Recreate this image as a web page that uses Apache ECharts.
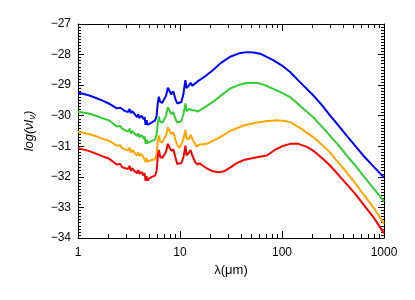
<!DOCTYPE html>
<html>
<head>
<meta charset="utf-8">
<script src="https://cdn.jsdelivr.net/npm/echarts@6/dist/echarts.min.js"></script>
<style>
html,body{margin:0;padding:0;background:#fff;}
#chart{width:415px;height:300px;}
</style>
</head>
<body>
<div id="chart"></div>
<script>
// Wavelength (micron) / log(nu I_nu) pairs
const blue = [[1,-29.24],[1.27,-29.33],[1.5,-29.42],[1.72,-29.5],[2.0,-29.6],[2.15,-29.66],[2.4,-29.76],[2.5,-29.78],[2.6,-29.74],[2.7,-29.8],[2.9,-29.85],[3.1,-29.88],[3.2,-29.78],[3.3,-29.92],[3.4,-29.85],[3.6,-29.95],[3.8,-30.05],[3.9,-29.95],[4.0,-30.08],[4.2,-30.0],[4.4,-30.12],[4.5,-30.05],[4.6,-30.3],[4.7,-30.15],[4.8,-30.3],[5.0,-30.25],[5.3,-30.22],[5.7,-30.15],[5.9,-30.0],[6.05,-29.6],[6.2,-29.38],[6.4,-29.55],[6.7,-29.58],[7.0,-29.45],[7.3,-29.35],[7.6,-29.08],[7.9,-29.12],[8.2,-29.3],[8.6,-29.2],[9.0,-29.45],[9.4,-29.6],[9.8,-29.65],[10.3,-29.55],[10.8,-29.3],[11.1,-29.0],[11.3,-28.84],[11.6,-29.1],[12.0,-29.05],[12.3,-29.0],[12.7,-28.92],[13.2,-29.02],[14,-28.95],[15,-28.87],[17,-28.75],[21,-28.51],[25,-28.28],[31,-28.07],[38,-27.96],[45,-27.92],[53,-27.93],[61,-27.97],[70,-28.07],[82,-28.18],[100,-28.36],[120,-28.57],[150,-28.9],[202,-29.33],[250,-29.68],[295,-29.99],[350,-30.28],[430,-30.65],[520,-30.98],[625,-31.3],[800,-31.68],[1000,-32.02]];
const green = [[1,-29.87],[1.27,-29.93],[1.5,-30.0],[1.72,-30.08],[2.0,-30.15],[2.2,-30.25],[2.4,-30.35],[2.5,-30.38],[2.6,-30.34],[2.7,-30.42],[2.9,-30.48],[3.1,-30.52],[3.2,-30.42],[3.3,-30.58],[3.4,-30.5],[3.6,-30.6],[3.8,-30.66],[3.9,-30.58],[4.0,-30.7],[4.2,-30.63],[4.4,-30.75],[4.5,-30.68],[4.6,-30.92],[4.7,-30.78],[4.8,-30.9],[5.0,-30.85],[5.3,-30.82],[5.7,-30.78],[5.9,-30.62],[6.05,-30.25],[6.2,-30.03],[6.4,-30.2],[6.7,-30.22],[7.0,-30.12],[7.3,-30.0],[7.6,-29.72],[7.9,-29.78],[8.2,-29.95],[8.6,-29.88],[9.0,-30.1],[9.4,-30.22],[9.8,-30.27],[10.3,-30.18],[10.8,-29.95],[11.1,-29.75],[11.3,-29.6],[11.6,-29.85],[12.0,-29.82],[12.3,-29.78],[12.7,-29.72],[13.2,-29.82],[14,-29.83],[15,-29.86],[17,-29.75],[21,-29.55],[25,-29.35],[31,-29.11],[38,-28.99],[45,-28.93],[53,-28.92],[61,-28.95],[70,-29.02],[82,-29.12],[100,-29.25],[120,-29.39],[150,-29.67],[202,-30.05],[250,-30.38],[295,-30.65],[350,-30.93],[430,-31.3],[520,-31.62],[625,-31.96],[800,-32.4],[1000,-32.8]];
const orange = [[1,-30.52],[1.27,-30.6],[1.5,-30.67],[1.72,-30.75],[2.0,-30.82],[2.2,-30.9],[2.4,-30.98],[2.5,-31.02],[2.6,-30.97],[2.7,-31.06],[2.9,-31.1],[3.1,-31.14],[3.2,-31.04],[3.3,-31.2],[3.4,-31.12],[3.6,-31.22],[3.8,-31.3],[3.9,-31.2],[4.0,-31.32],[4.2,-31.25],[4.4,-31.36],[4.5,-31.3],[4.6,-31.52],[4.7,-31.38],[4.8,-31.5],[5.0,-31.47],[5.3,-31.45],[5.7,-31.42],[5.9,-31.25],[6.05,-30.85],[6.2,-30.65],[6.4,-30.85],[6.7,-30.88],[7.0,-30.75],[7.3,-30.65],[7.6,-30.38],[7.9,-30.42],[8.2,-30.6],[8.6,-30.55],[9.0,-30.78],[9.4,-30.95],[9.8,-31.05],[10.3,-30.95],[10.8,-30.75],[11.1,-30.6],[11.3,-30.46],[11.6,-30.75],[12.0,-30.8],[12.3,-30.75],[12.7,-30.62],[13.2,-30.75],[14,-30.92],[14.6,-31.02],[15.3,-30.95],[18.3,-30.92],[21,-30.82],[24.8,-30.7],[31,-30.5],[42,-30.32],[55,-30.23],[70,-30.18],[89,-30.15],[105,-30.17],[120,-30.21],[150,-30.4],[202,-30.7],[250,-30.97],[295,-31.2],[350,-31.5],[430,-31.85],[520,-32.2],[625,-32.56],[800,-33.03],[1000,-33.53]];
const red = [[1,-31.06],[1.27,-31.15],[1.5,-31.24],[1.72,-31.32],[2.0,-31.4],[2.2,-31.5],[2.4,-31.6],[2.5,-31.64],[2.6,-31.58],[2.7,-31.68],[2.9,-31.72],[3.1,-31.74],[3.2,-31.64],[3.3,-31.8],[3.4,-31.72],[3.6,-31.82],[3.8,-31.88],[3.9,-31.78],[4.0,-31.9],[4.2,-31.84],[4.4,-31.96],[4.5,-31.88],[4.6,-32.13],[4.7,-31.98],[4.8,-32.12],[5.0,-32.05],[5.3,-32.0],[5.7,-31.96],[5.9,-31.8],[6.05,-31.35],[6.2,-31.12],[6.4,-31.35],[6.7,-31.38],[7.0,-31.28],[7.3,-31.18],[7.6,-30.92],[7.9,-30.98],[8.2,-31.15],[8.6,-31.1],[9.0,-31.35],[9.4,-31.58],[9.8,-31.63],[10.3,-31.55],[10.8,-31.35],[11.1,-31.15],[11.3,-30.98],[11.6,-31.3],[12.0,-31.3],[12.3,-31.2],[12.7,-31.12],[13.2,-31.3],[14,-31.5],[14.8,-31.6],[15.5,-31.55],[16.5,-31.62],[18.3,-31.72],[21,-31.82],[24,-31.85],[27,-31.82],[31,-31.7],[36,-31.55],[42,-31.45],[55,-31.37],[71,-31.3],[85,-31.12],[100,-31.0],[120,-30.92],[145,-30.92],[175,-31.02],[202,-31.14],[250,-31.4],[295,-31.63],[350,-31.9],[430,-32.24],[520,-32.55],[625,-32.89],[800,-33.35],[1000,-33.85]];

const xMajorTicks = [1, 10, 100, 1000];
const xMinorTicks = [2,3,4,5,6,7,8,9,20,30,40,50,60,70,80,90,200,300,400,500,600,700,800,900];
const yTickLabels = [-34,-33,-32,-31,-30,-29,-28,-27];

const seriesList = [
  {name:'blue', data: blue, color:'#0000ff'},
  {name:'green', data: green, color:'#33cc33'},
  {name:'orange', data: orange, color:'#ffa500'},
  {name:'red', data: red, color:'#ff0000'}
];

const FONT = 'Liberation Sans';
const chart = echarts.init(document.getElementById('chart'), null, {renderer:'canvas'});

function logAxis(pos, showLine, ticks, len, labels, extra) {
  return Object.assign({
    type:'log', logBase:10, min:1, max:1000, position: pos,
    axisLine:{show:showLine, onZero:false, lineStyle:{color:'#000', width:1}},
    axisTick:{show:true, inside:true, length:len, customValues: ticks, lineStyle:{color:'#000', width:1}},
    axisLabel:{show:labels, customValues: xMajorTicks, color:'#000', fontSize:12, fontFamily:FONT, margin:9,
      formatter: v => String(Math.round(v))},
    splitLine:{show:false}
  }, extra || {});
}
function valAxis(pos, labels, extra) {
  return Object.assign({
    type:'value', min:-34, max:-27, interval:1, position: pos,
    axisLine:{show:true, onZero:false, lineStyle:{color:'#000', width:1}},
    axisTick:{show:true, inside:true, length:6, lineStyle:{color:'#000', width:1}},
    minorTick:{show:true, splitNumber:10, length:3, lineStyle:{color:'#000', width:1}},
    axisLabel:{show:labels, color:'#000', fontSize:12, fontFamily:FONT, margin:7,
      formatter: v => String(v).replace('-', '\u2212')},
    splitLine:{show:false}
  }, extra || {});
}

chart.setOption({
  animation:false,
  backgroundColor:'#fff',
  grid:{left:78, right:31, top:24, bottom:62, containLabel:false},
  xAxis:[
    logAxis('bottom', true, xMajorTicks, 7, true, {
      name:'\u03bb(\u03bcm)', nameLocation:'middle', nameGap:26,
      nameTextStyle:{color:'#000', fontSize:13, fontFamily:FONT}
    }),
    logAxis('bottom', false, xMinorTicks, 4, false),
    logAxis('top', true, xMajorTicks, 7, false),
    logAxis('top', false, xMinorTicks, 4, false)
  ],
  yAxis:[
    valAxis('left', true, {
      name:'{i|log(\u03bdI}{s|\u03bd}{i|)}', nameLocation:'middle', nameGap:41,
      nameTextStyle:{color:'#000', rich:{
        i:{fontSize:13, fontStyle:'italic', fontFamily:FONT, color:'#000'},
        s:{fontSize:9, fontStyle:'italic', fontFamily:FONT, color:'#000', verticalAlign:'bottom', padding:[6,0,0,0]}
      }}
    }),
    valAxis('right', false)
  ],
  series: seriesList.map(s => ({
    name:s.name, type:'line', xAxisIndex:0, yAxisIndex:0,
    data:s.data, showSymbol:false, symbol:'none',
    lineStyle:{color:s.color, width:2}, itemStyle:{color:s.color},
    z:3
  }))
});
</script>
</body>
</html>
